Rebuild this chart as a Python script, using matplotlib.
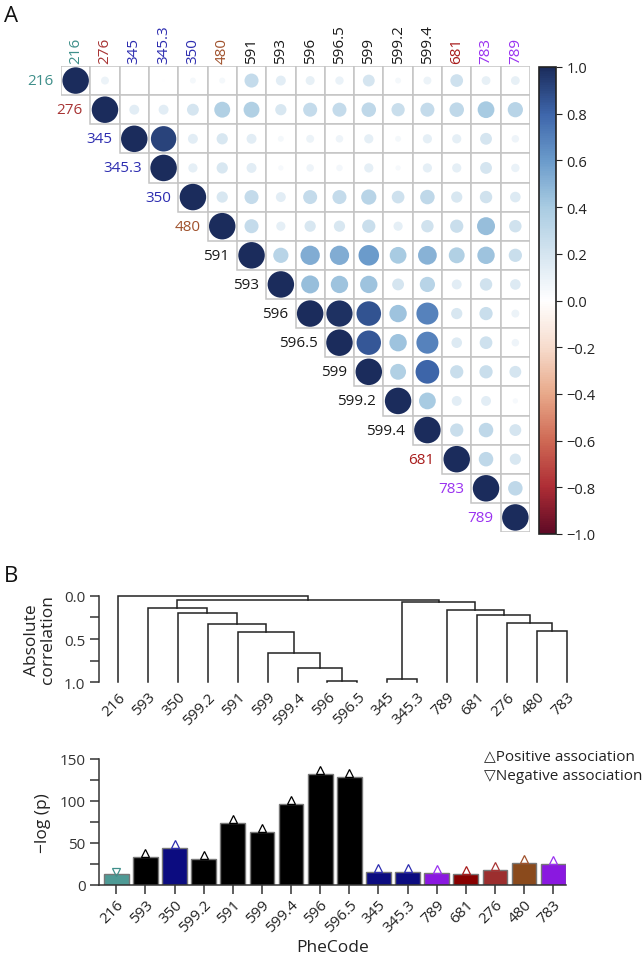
import matplotlib
matplotlib.use("Agg")
import matplotlib.pyplot as plt
import numpy as np
from matplotlib.colors import LinearSegmentedColormap, Normalize
from matplotlib.patches import Rectangle
from matplotlib.cm import ScalarMappable

plt.rcParams['font.family'] = ['Open Sans', 'DejaVu Sans']
plt.rcParams['axes.unicode_minus'] = True

# ---------------- data ----------------
phecodes = ['216', '276', '345', '345.3', '350', '480', '591', '593', '596',
            '596.5', '599', '599.2', '599.4', '681', '783', '789']
label_colors = ['#3f8f8a', '#a83434', '#2d2db0', '#2d2db0', '#2d2db0', '#a0522d',
                '#1a1a1a', '#1a1a1a', '#1a1a1a', '#1a1a1a', '#1a1a1a', '#1a1a1a',
                '#1a1a1a', '#a81c1c', '#9a32f0', '#9a32f0']

# upper triangle (off-diagonal) correlations, row i lists columns i+1..15
corr_upper = [
    [0.09, 0.0, 0.005, 0.05, 0.05, 0.28, 0.14, 0.115, 0.10, 0.20, 0.05, 0.09, 0.23, 0.11, 0.11],
    [0.14, 0.14, 0.20, 0.36, 0.36, 0.18, 0.28, 0.28, 0.30, 0.25, 0.28, 0.30, 0.40, 0.33],
    [0.92, 0.14, 0.18, 0.14, 0.05, 0.09, 0.08, 0.12, 0.05, 0.12, 0.12, 0.20, 0.08],
    [0.12, 0.18, 0.14, 0.04, 0.08, 0.06, 0.12, 0.04, 0.12, 0.12, 0.20, 0.10],
    [0.18, 0.28, 0.14, 0.28, 0.28, 0.33, 0.23, 0.30, 0.18, 0.22, 0.16],
    [0.28, 0.12, 0.18, 0.18, 0.25, 0.12, 0.22, 0.25, 0.46, 0.22],
    [0.33, 0.53, 0.53, 0.60, 0.40, 0.50, 0.36, 0.43, 0.25],
    [0.46, 0.43, 0.43, 0.20, 0.33, 0.14, 0.22, 0.16],
    [0.98, 0.86, 0.43, 0.69, 0.18, 0.25, 0.09],
    [0.85, 0.43, 0.69, 0.16, 0.23, 0.08],
    [0.36, 0.80, 0.25, 0.25, 0.20],
    [0.40, 0.14, 0.14, 0.04],
    [0.25, 0.30, 0.20],
    [0.30, 0.18],
    [0.30],
    [],
]

# dendrogram leaf order and merges (child a, child b, height); ids >=16 refer to earlier merges
dendro_leaves = ['216', '593', '350', '599.2', '591', '599', '599.4', '596', '596.5',
                 '345', '345.3', '789', '681', '276', '480', '783']
dendro_merges = [
    (7, 8, 0.99), (6, 16, 0.835), (5, 17, 0.66), (4, 18, 0.42), (3, 19, 0.33),
    (2, 20, 0.20), (1, 21, 0.14), (9, 10, 0.96), (14, 15, 0.41), (13, 24, 0.315),
    (12, 25, 0.22), (11, 26, 0.165), (23, 27, 0.077), (22, 28, 0.046), (0, 29, 0.0),
]

# bar chart
bar_codes = dendro_leaves
bar_values = [12.7, 33, 43.7, 30.6, 74.2, 63.1, 96.4, 132, 128.6, 15.1, 15.1, 13.9, 12.7,
              17.9, 26.6, 24.6]
bar_colors = ['#4e9a95', '#000000', '#0c0c80', '#000000', '#000000', '#000000', '#000000',
              '#000000', '#000000', '#0c0c80', '#0c0c80', '#8a18e0', '#880000', '#9c2e2e',
              '#8a4a1c', '#8a18e0']
tri_colors = ['#3f8f8a', '#000000', '#2d2db0', '#000000', '#000000', '#000000', '#000000',
              '#000000', '#000000', '#2d2db0', '#2d2db0', '#9a32f0', '#a81c1c', '#a83434',
              '#a0522d', '#9a32f0']
direction = ['neg'] + ['pos'] * 15

# ---------------- figure ----------------
W, H = 643, 962
fig = plt.figure(figsize=(W / 100, H / 100), dpi=100)

def px_axes(x0, y0, x1, y1):
    return fig.add_axes([x0 / W, 1 - y1 / H, (x1 - x0) / W, (y1 - y0) / H])

corr_cmap = LinearSegmentedColormap.from_list(
    'corrplot', ["#5e0a25", "#ae2d35", "#cf6a55", "#e8a98a", "#f7dccd", "#ffffff",
                 "#d5e5f0", "#a9cce2", "#6b9bcb", "#3e66ab", "#1b2c5c"])
norm = Normalize(-1, 1)

# ---- panel A: correlation matrix ----
n = len(phecodes)
axm = px_axes(61, 67, 530, 533)
axm.set_xlim(-0.5, n - 0.5)
axm.set_ylim(n - 0.5, -0.5)
axm.axis('off')
xs, ys, vals = [], [], []
for i in range(n):
    for j in range(i, n):
        axm.add_patch(Rectangle((j - 0.5, i - 0.5), 1, 1, facecolor='white',
                                edgecolor='#c4c4c4', lw=1.1, zorder=1))
        v = 1.0 if j == i else corr_upper[i][j - i - 1]
        xs.append(j); ys.append(i); vals.append(v)
vals = np.array(vals)
cell_pt = 26.5 * 0.72
axm.scatter(xs, ys, s=(cell_pt ** 2) * np.abs(vals), c=vals, cmap=corr_cmap, norm=norm,
            edgecolors='none', zorder=3)
for i, (lab, col) in enumerate(zip(phecodes, label_colors)):
    axm.text(i - 0.75, i, lab, ha='right', va='center', color=col, fontsize=11)
    axm.text(i, -0.62, lab, ha='center', va='bottom', rotation=90, color=col, fontsize=11)

axc = px_axes(539, 68, 556, 535)
cb = fig.colorbar(ScalarMappable(norm=norm, cmap=corr_cmap), cax=axc,
                  ticks=np.round(np.arange(-1, 1.01, 0.2), 1))
cb.outline.set_linewidth(1.2)
cb.outline.set_edgecolor('#222222')
axc.tick_params(labelsize=10.5, length=4, colors='#222222')

fig.text(4 / W, 1 - 16 / H, 'A', fontsize=16, va='center', ha='left', color='#111111')
fig.text(4 / W, 1 - 576 / H, 'B', fontsize=16, va='center', ha='left', color='#111111')

# ---- panel B top: dendrogram ----
axd = px_axes(99.3, 596.7, 575, 683.3)
nl = len(dendro_leaves)
node_x = {i: float(i) for i in range(nl)}
node_h = {i: 1.0 for i in range(nl)}
for k, (a, b, h) in enumerate(dendro_merges):
    nid = nl + k
    xa, xb = node_x[a], node_x[b]
    axd.plot([xa, xa, xb, xb], [node_h[a], h, h, node_h[b]], color='#222222', lw=1.1,
             clip_on=False, solid_joinstyle='miter')
    node_x[nid] = (xa + xb) / 2
    node_h[nid] = h
axd.set_xlim(-0.614, 15.26)
axd.set_ylim(1.0, 0.0)
for s in ['top', 'right', 'bottom']:
    axd.spines[s].set_visible(False)
axd.spines['left'].set_color('#333333')
axd.spines['left'].set_linewidth(1.1)
axd.set_yticks([0.0, 0.5, 1.0])
axd.set_yticks([0.25, 0.75], minor=True)
axd.set_yticklabels(['0.0', '0.5', '1.0'])
axd.tick_params(axis='y', which='both', length=6.5, width=1.1, colors='#333333',
                labelsize=11)
axd.set_xticks(range(nl))
axd.set_xticklabels(dendro_leaves, rotation=45, ha='right', rotation_mode='anchor',
                    fontsize=11, color='#222222')
axd.tick_params(axis='x', length=0, pad=5)
axd.set_ylabel('Absolute\ncorrelation', fontsize=12.5, color='#222222', labelpad=6,
               linespacing=1.0)

# ---- panel B bottom: bar chart ----
axb = px_axes(99.3, 760, 565.7, 886)
xpos = np.arange(len(bar_codes))
axb.bar(xpos, bar_values, width=0.85, color=bar_colors, edgecolor='#777777', lw=1.0,
        zorder=2)
for x, v, c, d in zip(xpos, bar_values, tri_colors, direction):
    up = d == 'pos'
    axb.plot(x, v + (4.8 if up else 2.8), marker='^' if up else 'v', ms=6, mfc='none',
             mec=c, mew=0.9, ls='none', zorder=3, clip_on=False)
axb.set_xlim(-0.584, 15.43)
axb.set_ylim(0, 150)
for s in ['top', 'right']:
    axb.spines[s].set_visible(False)
for s in ['left', 'bottom']:
    axb.spines[s].set_color('#333333')
    axb.spines[s].set_linewidth(1.1)
axb.set_yticks([0, 50, 100, 150])
axb.set_yticks([25, 75, 125], minor=True)
axb.tick_params(axis='y', which='both', length=6.5, width=1.1, colors='#333333',
                labelsize=11)
axb.set_xticks(xpos)
axb.set_xticklabels(bar_codes, rotation=45, ha='right', rotation_mode='anchor',
                    fontsize=11, color='#222222')
axb.tick_params(axis='x', length=6.5, width=1.1, pad=2, color='#333333')
axb.set_ylabel('\u2212log (p)', fontsize=12.5, color='#222222', labelpad=6)
axb.set_xlabel('PheCode', fontsize=12.5, color='#222222', labelpad=3)

fig.text(484 / W, 1 - 757 / H, '\u25b3Positive association', fontsize=11, va='center',
         ha='left', color='#222222')
fig.text(484 / W, 1 - 776 / H, '\u25bdNegative association', fontsize=11, va='center',
         ha='left', color='#222222')

fig.savefig('out.png', dpi=100)
